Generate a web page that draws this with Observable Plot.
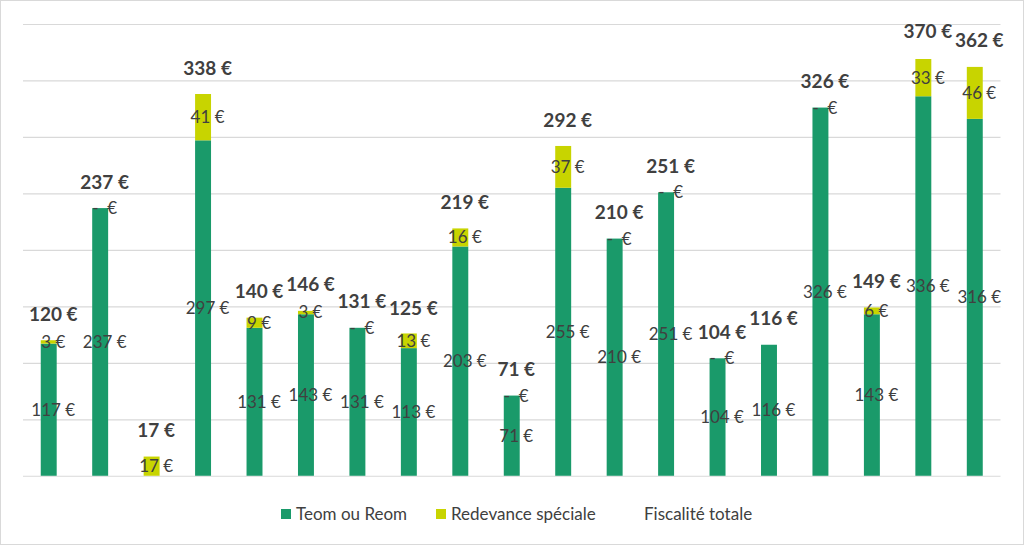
<!DOCTYPE html>
<html>
<head>
<meta charset="utf-8">
<script src="https://cdn.jsdelivr.net/npm/d3@7"></script>
<script src="https://cdn.jsdelivr.net/npm/@observablehq/plot@0.6"></script>
<style>
  html, body { margin: 0; padding: 0; background: #fff; }
  #wrap { position: relative; width: 1024px; height: 545px; box-sizing: border-box; border: 1.5px solid #d9d9d9; overflow: hidden; font-family: Lato, sans-serif; }
  #chart { position: absolute; left: -1.5px; top: -1.5px; }
  #legend { position: absolute; left: 0; top: 503px; width: 1024px; height: 20px; font-size: 17px; color: #404040; }
  .item { position: absolute; top: 0; line-height: 20px; white-space: nowrap; }
  .sw { position: absolute; width: 10px; height: 10px; top: 5px; }
</style>
</head>
<body>
<div id="wrap">
  <div id="chart"></div>
  <div id="legend"></div>
</div>
<script>
const series = ["Teom ou Reom", "Redevance spéciale", "Fiscalité totale"];
const colors = ["#1a9a6a", "#c8d400"];
const teom  = [117, 237, null, 297, 131, 143, 131, 113, 203, 71, 255, 210, 251, 104, 116, 326, 143, 336, 316];
const rs    = [3, 0, 17, 41, 9, 3, 0, 13, 16, 0, 37, 0, 0, 0, null, 0, 6, 33, 46];
const total = [120, 237, 17, 338, 140, 146, 131, 125, 219, 71, 292, 210, 251, 104, 116, 326, 149, 370, 362];
const yTicks = [0, 50, 100, 150, 200, 250, 300, 350, 400];

const idx = d3.range(total.length);
const rows = idx.flatMap(i => [
  {i, s: series[0], v: teom[i] ?? 0},
  {i, s: series[1], v: rs[i] ?? 0}
]);
const fmt = v => v === 0 ? "-\u00a0\u00a0€" : `${v} €`;

const chart = Plot.plot({
  width: 1024,
  height: 496,
  marginLeft: 23,
  marginRight: 23,
  marginTop: 24,
  marginBottom: 20,
  style: {fontFamily: "Lato, sans-serif", background: "transparent"},
  x: {type: "band", domain: idx, paddingInner: 0.69, paddingOuter: 0.345, round: false, axis: null},
  y: {domain: [0, 400], axis: null},
  color: {domain: series.slice(0, 2), range: colors},
  marks: [
    Plot.ruleY(yTicks, {stroke: "#d9d9d9", strokeWidth: 1.2}),
    Plot.barY(rows, {x: "i", y: "v", fill: "s"}),
    Plot.text(idx.filter(i => teom[i] != null), {
      x: i => i, y: i => teom[i] / 2, text: i => fmt(teom[i]),
      dx: 4, fill: "#404040", fontSize: 17
    }),
    Plot.text(idx.filter(i => rs[i] != null), {
      x: i => i, y: i => (teom[i] ?? 0) + rs[i] / 2, text: i => fmt(rs[i]),
      dx: 4, fill: "#404040", fontSize: 17
    }),
    Plot.text(idx, {
      x: i => i, y: i => total[i], text: i => `${total[i]} €`,
      dx: 4, dy: -26, fill: "#404040", fontSize: 19, fontWeight: "bold"
    })
  ]
});
document.getElementById("chart").appendChild(chart);

const legend = document.getElementById("legend");
const items = [
  {label: series[0], sw: colors[0], swX: 280, tX: 295},
  {label: series[1], sw: colors[1], swX: 435, tX: 450},
  {label: series[2], sw: null, swX: 628, tX: 643}
];
for (const it of items) {
  if (it.sw) {
    const s = document.createElement("div");
    s.className = "sw";
    s.style.left = it.swX + "px";
    s.style.background = it.sw;
    legend.appendChild(s);
  }
  const t = document.createElement("div");
  t.className = "item";
  t.style.left = it.tX + "px";
  t.textContent = it.label;
  legend.appendChild(t);
}
</script>
</body>
</html>
